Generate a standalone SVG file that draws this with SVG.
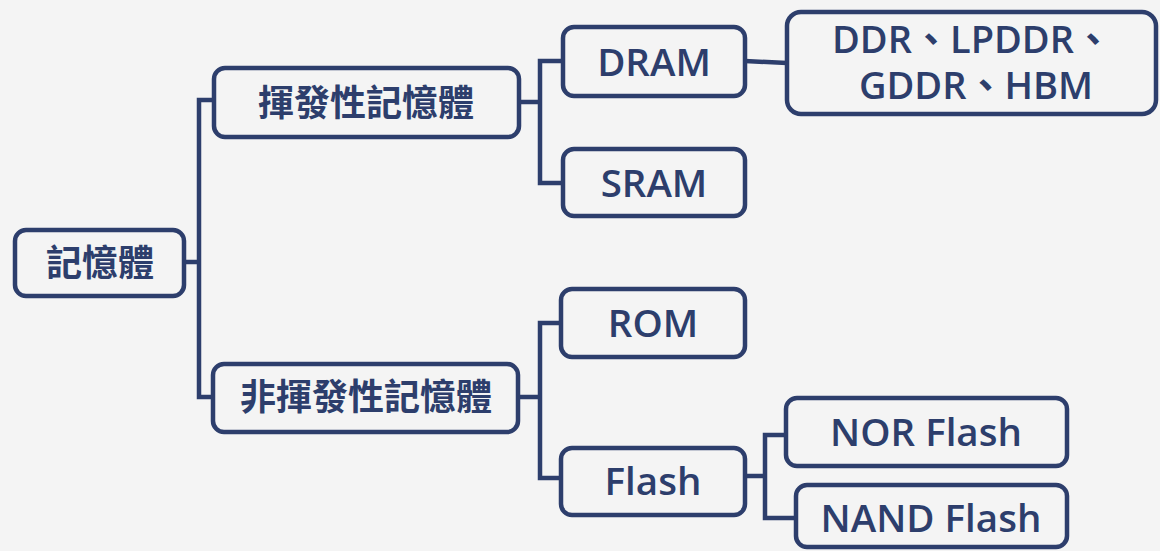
<svg xmlns="http://www.w3.org/2000/svg" width="1160" height="551" viewBox="0 0 1160 551">
<style>
.box{fill:#f4f4f4;stroke:#2d3e6c;stroke-width:4.5}
.ln{fill:none;stroke:#2d3e6c;stroke-width:4.5;stroke-linejoin:miter;stroke-linecap:butt}
.cjk{font-family:"Noto Sans CJK TC","Noto Sans CJK SC",sans-serif;font-weight:700;font-size:36px;fill:#2d3e6c;text-anchor:middle}
.lat{font-family:"Open Sans","Noto Sans CJK TC",sans-serif;font-weight:600;font-size:38.5px;fill:#2d3e6c;text-anchor:middle}
.lat2{font-family:"Open Sans","Noto Sans CJK TC",sans-serif;font-weight:600;font-size:38px;fill:#2d3e6c;text-anchor:middle}
</style>
<rect width="1160" height="551" fill="#f4f4f4"/>
<g id="connectors">
<path class="ln" d="M184 262H199M214 100H199V397H213"/>
<path class="ln" d="M519 102H540M563 61H540V183H563"/>
<path class="ln" d="M745 61L787 63"/>
<path class="ln" d="M518 397H540M561 323H540V478H561"/>
<path class="ln" d="M745 476H765M786 435H765V518H796"/>
</g>
<g id="memory"><rect class="box" x="15" y="230" width="169" height="66" rx="11"/><text class="cjk" x="100" y="276">記憶體</text></g>
<g id="volatile"><rect class="box" x="214" y="68" width="305" height="69" rx="11"/><text class="cjk" x="366" y="116">揮發性記憶體</text></g>
<g id="nonvolatile"><rect class="box" x="213" y="364" width="305" height="68" rx="11"/><text class="cjk" x="366" y="410">非揮發性記憶體</text></g>
<g id="dram"><rect class="box" x="563" y="27" width="182" height="69" rx="11"/><text class="lat" x="654" y="76">DRAM</text></g>
<g id="sram"><rect class="box" x="563" y="149" width="182" height="67" rx="11"/><text class="lat" x="654" y="197">SRAM</text></g>
<g id="ddr"><rect class="box" x="787" y="12" width="369" height="102" rx="14"/><text class="lat2"><tspan x="972" y="53">DDR、LPDDR、</tspan><tspan x="976" y="99">GDDR、HBM</tspan></text></g>
<g id="rom"><rect class="box" x="561" y="289" width="184" height="68" rx="11"/><text class="lat" x="653" y="337">ROM</text></g>
<g id="flash"><rect class="box" x="561" y="448" width="184" height="67" rx="11"/><text class="lat" x="653" y="495">Flash</text></g>
<g id="nor"><rect class="box" x="786" y="398" width="281" height="68" rx="11"/><text class="lat" x="926" y="446">NOR Flash</text></g>
<g id="nand"><rect class="box" x="796" y="485" width="271" height="62" rx="11"/><text class="lat" x="931" y="532">NAND Flash</text></g>
</svg>
